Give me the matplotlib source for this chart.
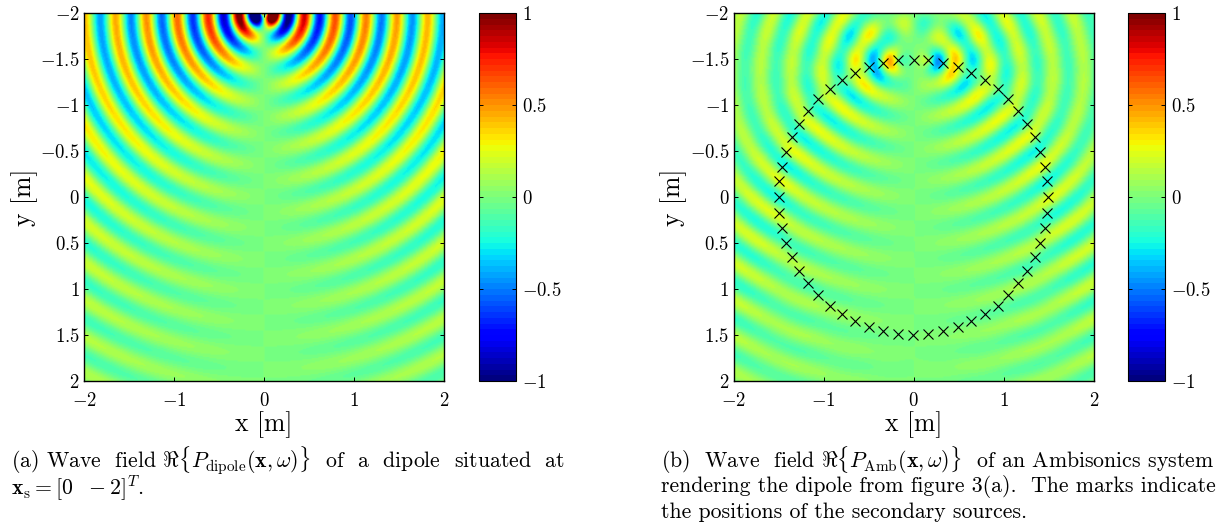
import numpy as np
import matplotlib
matplotlib.use("Agg")
import matplotlib.pyplot as plt

plt.rcParams['font.family'] = ['cmr10', 'DejaVu Sans']
plt.rcParams['mathtext.fontset'] = 'cm'
plt.rcParams['axes.formatter.use_mathtext'] = True
plt.rcParams['axes.unicode_minus'] = False

# Secondary-source marks, going round the circle (metres)
source_x = [0.00, 0.16, 0.33, 0.49, 0.64, 0.79, 0.93, 1.05, 1.16, 1.26, 1.34, 1.40, 1.46, 1.48,
            1.49, 1.48, 1.46, 1.40, 1.34, 1.26, 1.16, 1.05, 0.93, 0.79, 0.64, 0.49, 0.33, 0.16,
            -0.01, -0.17, -0.34, -0.50, -0.65, -0.80, -0.93, -1.06, -1.17, -1.27, -1.35, -1.42, -1.46, -1.49,
            -1.50, -1.49, -1.46, -1.42, -1.35, -1.27, -1.17, -1.06, -0.93, -0.80, -0.65, -0.50, -0.34, -0.17]
source_y = [-1.49, -1.485, -1.46, -1.41, -1.35, -1.27, -1.17, -1.06, -0.93, -0.79, -0.65, -0.49, -0.33, -0.17,
            0.00, 0.17, 0.34, 0.50, 0.65, 0.80, 0.94, 1.07, 1.18, 1.27, 1.35, 1.41, 1.46, 1.49,
            1.50, 1.49, 1.46, 1.41, 1.35, 1.27, 1.18, 1.07, 0.94, 0.80, 0.65, 0.50, 0.34, 0.17,
            0.00, -0.17, -0.33, -0.49, -0.65, -0.79, -0.93, -1.06, -1.17, -1.27, -1.35, -1.41, -1.46, -1.485]

# Field-model parameters
wavelength = 0.343      # crest spacing
first_crest = 0.455     # radius of a crest along the top edge
amplitude = 0.58        # amplitude * r^-1/2 follows the crest colours along the top edge
rendered_gain = 0.92    # panel (b) is slightly weaker than panel (a)
dipole_pos = (0.0, -2.0)

x_ticks = [-2, -1, 0, 1, 2]
y_ticks = [-2, -1.5, -1, -0.5, 0, 0.5, 1, 1.5, 2]
y_labels = ['$-2$', '$-1.5$', '$-1$', '$-0.5$', '$0$', '$0.5$', '$1$', '$1.5$', '$2$']
x_labels = ['$-2$', '$-1$', '$0$', '$1$', '$2$']
cb_ticks = [-1, -0.5, 0, 0.5, 1]
cb_labels = ['$-1$', '$-0.5$', '$0$', '$0.5$', '$1$']

k = 2 * np.pi / wavelength
W, H = 1219, 523


def dipole(x, y):
    dx, dy = x - dipole_pos[0], y - dipole_pos[1]
    r = np.maximum(np.hypot(dx, dy), 1e-3)
    return amplitude * (dx / r) * np.exp(1j * k * (r - first_crest)) / np.sqrt(r)


def green(px, py, sx, sy):
    rho = np.hypot(px[..., None] - sx, py[..., None] - sy)
    return np.exp(1j * k * rho) / np.sqrt(rho + 0.08)


axis = np.linspace(-2, 2, 321)
X, Y = np.meshgrid(axis, axis)
field_a = dipole(X, Y).real

sx, sy = np.array(source_x), np.array(source_y)
rr, aa = np.meshgrid(np.linspace(0.05, 1.42, 46), np.linspace(0, 2 * np.pi, 200, endpoint=False))
tx, ty = (rr * np.cos(aa)).ravel(), (rr * np.sin(aa)).ravel()
Gm = green(tx, ty, sx, sy)
lam = 0.03 * np.linalg.norm(Gm, 2)
drive = np.linalg.solve(Gm.conj().T @ Gm + lam ** 2 * np.eye(len(sx)), Gm.conj().T @ dipole(tx, ty))
field_b = rendered_gain * (green(X, Y, sx, sy) @ drive).real

cmap = plt.get_cmap('jet', 64)
fig = plt.figure(figsize=(W / 100, H / 100), dpi=100)


def box(x0, x1, y0, y1):
    return [x0 / W, 1 - y1 / H, (x1 - x0) / W, (y1 - y0) / H]


def panel(rect, cbrect, field, marks):
    ax = fig.add_axes(box(*rect))
    im = ax.imshow(field, extent=[-2, 2, 2, -2], cmap=cmap, vmin=-1, vmax=1,
                   interpolation='bilinear', aspect='auto')
    if marks:
        ax.plot(sx, sy, 'x', color='k', ms=6.5, mew=0.8)
    ax.set_xlim(-2, 2)
    ax.set_ylim(2, -2)
    ax.set_xticks(x_ticks, x_labels)
    ax.set_yticks(y_ticks, y_labels)
    ax.tick_params(direction='in', top=True, right=True, length=3, width=0.7, labelsize=13.5, pad=3)
    ax.tick_params(axis='x', pad=8)
    for s in ax.spines.values():
        s.set_linewidth(1.0)
    ax.set_xlabel('x [m]', fontsize=18.5, labelpad=1)
    ax.set_ylabel('y [m]', fontsize=18.5)
    ax.yaxis.set_label_coords(-46 / 360, 0.5)
    cax = fig.add_axes(box(*cbrect))
    cb = fig.colorbar(im, cax=cax)
    cb.set_ticks(cb_ticks, labels=cb_labels)
    cb.ax.tick_params(direction='in', left=True, right=True, length=3, width=0.7, labelsize=13.5, pad=4)
    cb.outline.set_linewidth(0.8)


panel((84, 444, 13, 381), (479, 516, 13, 381), field_a, False)
panel((733.5, 1094, 13, 381), (1128, 1165, 13, 381), field_b, True)

cap = 15.7
def caption(x, y, s):
    fig.text(x / W, 1 - y / H, s, fontsize=cap, ha='left', va='baseline')

caption(11, 468, r'(a) Wave  field $\Re\{P_{\mathrm{dipole}}(\mathbf{x},\omega)\}$  of  a  dipole  situated  at')
caption(11, 495, r'$\mathbf{x}_{\mathrm{s}} = [0\ \ -2]^{T}$.')
caption(661, 468, r'(b)  Wave  field $\Re\{P_{\mathrm{Amb}}(\mathbf{x},\omega)\}$  of an Ambisonics system')
caption(661, 492, 'rendering the dipole from figure 3(a).  The marks indicate')
caption(661, 518, 'the positions of the secondary sources.')

fig.savefig('out.png', dpi=100)
